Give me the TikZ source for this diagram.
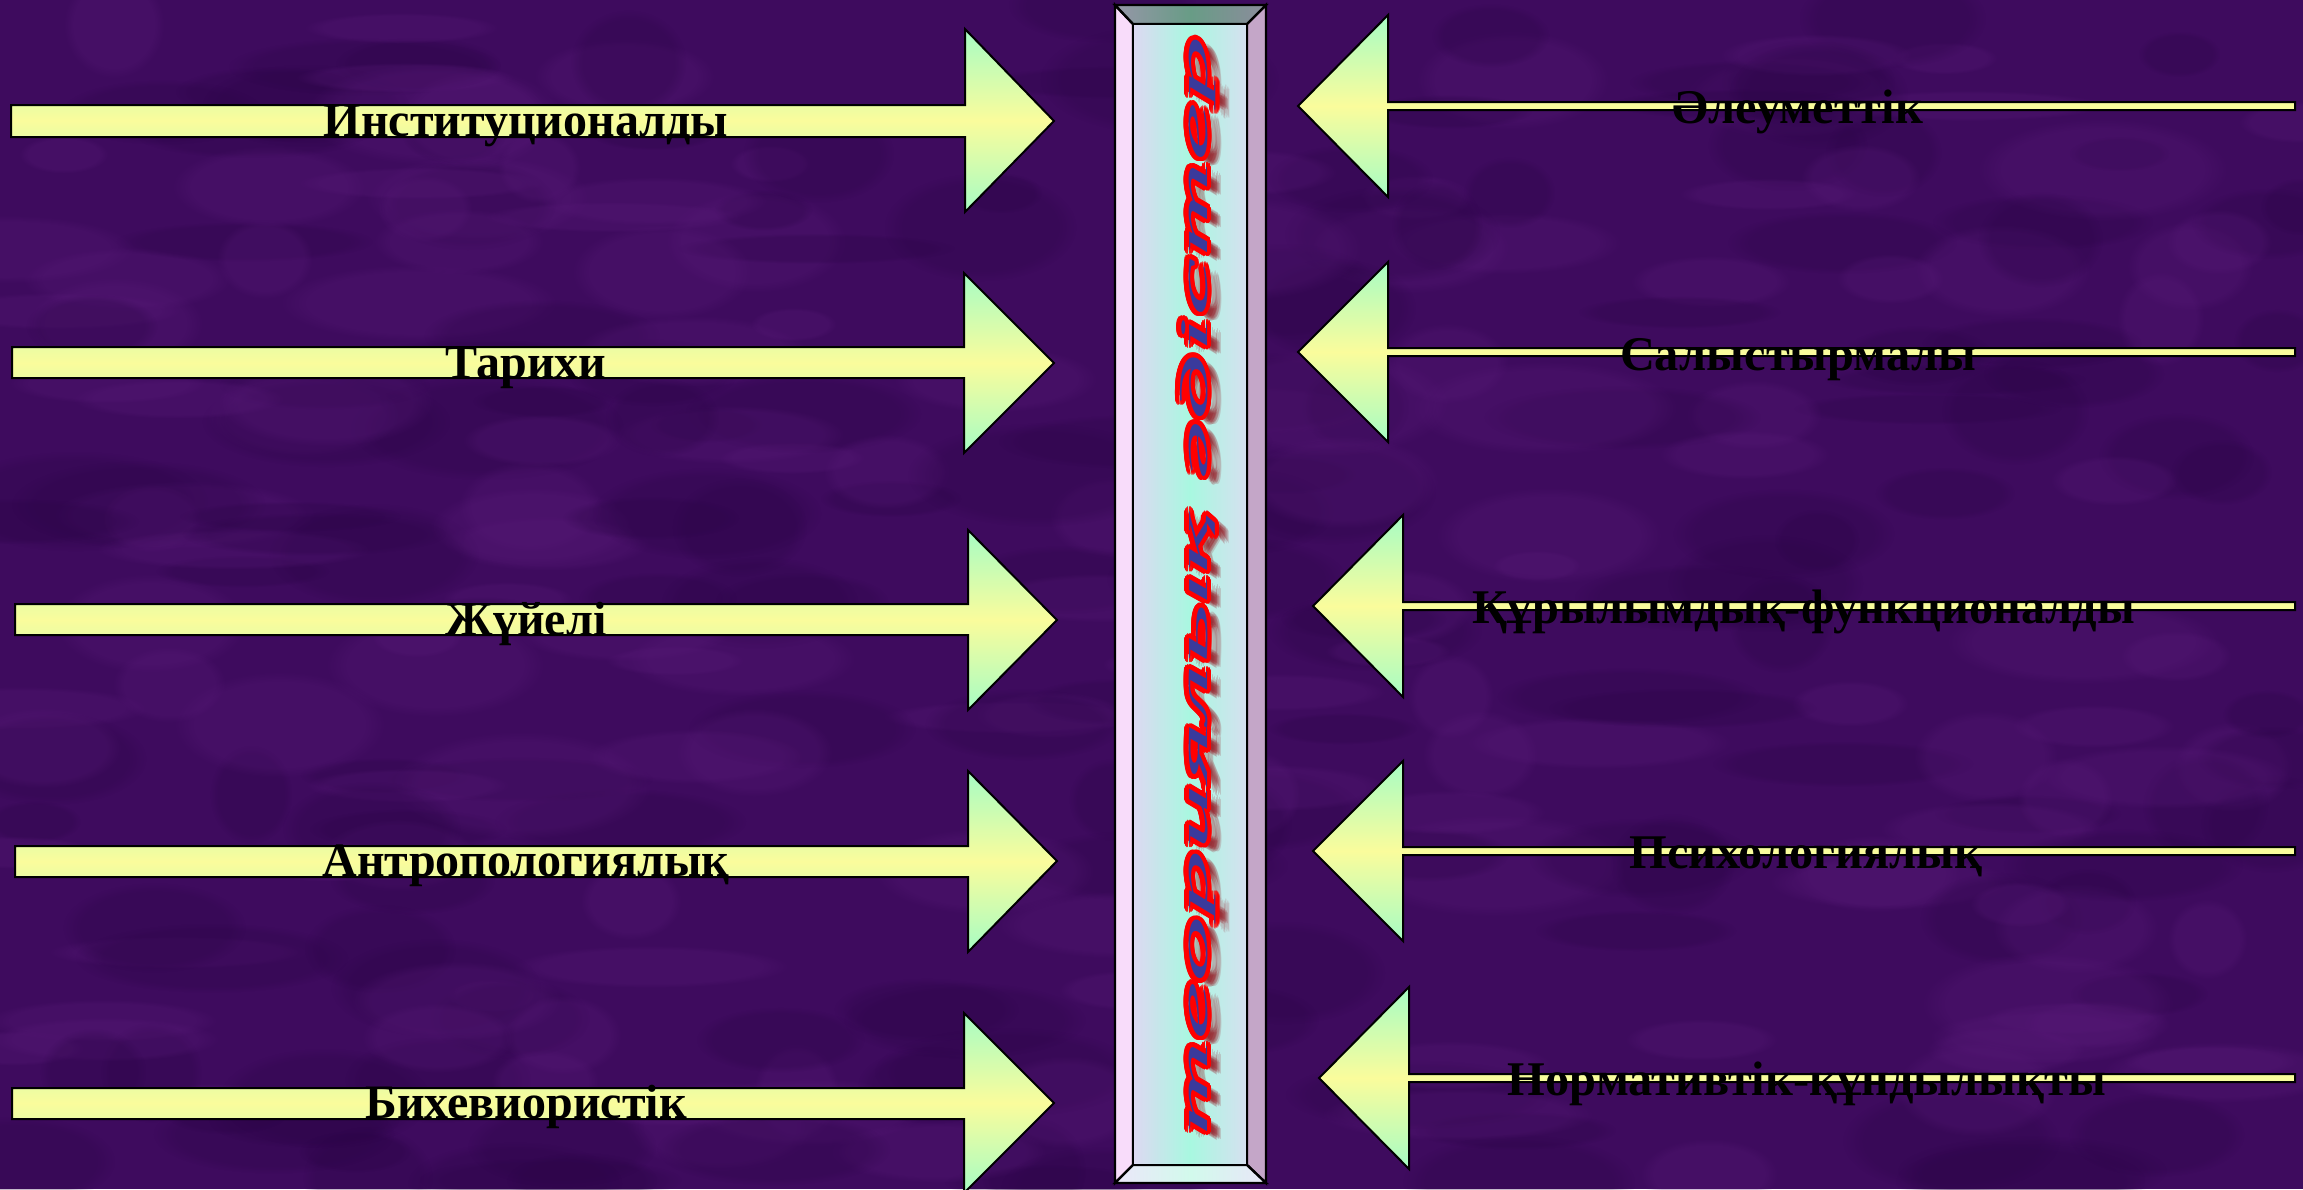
\documentclass[tikz,border=0pt]{standalone}
\usepackage{fontspec}
\setmainfont{Liberation Serif}
\newfontfamily\wordfont{Liberation Serif}
\usetikzlibrary{calc,fadings}
\definecolor{bgpurple}{RGB}{62,11,94}
\definecolor{bglight}{RGB}{88,26,120}
\definecolor{bgdark}{RGB}{42,4,70}
\definecolor{mint}{RGB}{166,252,196}
\definecolor{ayellow}{RGB}{250,252,156}
\definecolor{wablue}{RGB}{58,58,156}
\definecolor{shadowred}{RGB}{150,20,30}
\tikzset{
  arrowshade/.style={top color=mint, bottom color=mint, middle color=ayellow, draw=black, line width=1pt, line join=miter},
  barline/.style={draw=black, line width=1.2pt, line join=miter},
  ltext/.style={font=\fontsize{24}{28}\selectfont\bfseries, anchor=base, inner sep=0pt, text=black},
  rtext/.style={font=\fontsize{24.2}{28}\selectfont\bfseries, anchor=base, inner sep=0pt, text=black},
  vtxt/.style={rotate=90, anchor=base, inner sep=0pt, font=\fontsize{19.5}{24}\selectfont\wordfont\itshape},
}
\newcommand{\leftarr}[8]{%
  \shadedraw[arrowshade] (#1,#2) -- (#4,#2) -- (#4,#5) -- (#7,#8) -- (#4,#6) -- (#4,#3) -- (#1,#3) -- cycle;}
\newcommand{\rightarr}[8]{%
  \shadedraw[arrowshade] (#1,#2) -- (#3,#4) -- (#3,#6) -- (#8,#6) -- (#8,#7) -- (#3,#7) -- (#3,#5) -- cycle;}
\newcommand{\vword}{\resizebox{550pt}{\height}{теориялық әдістер}}
\begin{document}
\begin{tikzpicture}[x=0.5pt,y=-0.5pt]
\useasboundingbox (0,0) rectangle (2303,1189);
% background
\fill[bgpurple] (0,0) rectangle (2303,1189);
\pgfmathsetseed{4242}
\foreach \i in {1,...,320}{
  \pgfmathsetmacro{\px}{rnd*2303}
  \pgfmathsetmacro{\py}{rnd*1189}
  \pgfmathsetmacro{\rx}{40+rnd*100}
  \pgfmathsetmacro{\ry}{15+rnd*40}
  \pgfmathsetmacro{\k}{rnd}
  \ifdim\k pt<0.5pt
    \fill[bglight, opacity=0.28, path fading=circle with fuzzy edge 20 percent] (\px,\py) ellipse ({\rx} and {\ry});
  \else
    \fill[bgdark, opacity=0.28, path fading=circle with fuzzy edge 20 percent] (\px,\py) ellipse ({\rx} and {\ry});
  \fi
}
% left arrows
\leftarr{11}{105}{137}{965}{29}{212}{1054}{121}
\leftarr{12}{347}{378}{964}{273}{453}{1054}{363}
\leftarr{15}{604}{635}{968}{530}{710}{1057}{620}
\leftarr{15}{846}{877}{968}{771}{952}{1057}{861}
\leftarr{12}{1088}{1119}{964}{1013}{1193}{1054}{1103}
% right arrows: tip x, tip y, base x, head top, head bottom, shaft top, shaft bottom, right x
\rightarr{1298}{106}{1388}{15}{197}{102}{110}{2295}
\rightarr{1298}{352}{1388}{262}{442}{348}{356}{2295}
\rightarr{1313}{606}{1403}{515}{697}{602}{610}{2295}
\rightarr{1313}{851}{1403}{761}{941}{847}{855}{2295}
\rightarr{1319}{1078}{1409}{987}{1169}{1074}{1082}{2295}
% left texts
\node[ltext] (t1) at (526,136) {Институционалды};
\node[ltext] (t2) at (526,378) {Тарихи};
\node[ltext] (t3) at (526,635) {Жүйелі};
\node[ltext] (t4) at (526,876) {Антропологиялық};
\node[ltext] (t5) at (526,1118) {Бихевиористік};
% right texts
\node[rtext] (r1) at (1798,123) {Әлеуметтік};
\node[rtext] (r2) at (1798,370) {Салыстырмалы};
\node[rtext] (r3) at (1804,623) {Құрылымдық-функционалды};
\node[rtext] (r4) at (1806,868) {Психологиялық};
\node[rtext] (r5) at (1807,1095) {Нормативтік-құндылықты};
% central bevelled bar
\coordinate (o1) at (1115,5);
\coordinate (o2) at (1266,5);
\coordinate (o3) at (1266,1183);
\coordinate (o4) at (1115,1183);
\coordinate (i1) at (1133,24);
\coordinate (i2) at (1247,24);
\coordinate (i3) at (1247,1165);
\coordinate (i4) at (1133,1165);
\filldraw[barline, fill={rgb,255:red,248;green,220;blue,250}] (o1) -- (i1) -- (i4) -- (o4) -- cycle;
\filldraw[barline, fill={rgb,255:red,196;green,166;blue,200}] (o2) -- (i2) -- (i3) -- (o3) -- cycle;
\shadedraw[barline, left color={rgb,255:red,150;green,150;blue,168}, right color={rgb,255:red,140;green,140;blue,156}, middle color={rgb,255:red,104;green,156;blue,134}] (o1) -- (o2) -- (i2) -- (i1) -- cycle;
\shadedraw[barline, left color={rgb,255:red,236;green,230;blue,250}, right color={rgb,255:red,232;green,230;blue,248}, middle color={rgb,255:red,210;green,250;blue,236}] (o4) -- (o3) -- (i3) -- (i4) -- cycle;
\shadedraw[barline, left color={rgb,255:red,222;green,216;blue,242}, right color={rgb,255:red,214;green,224;blue,240}, middle color={rgb,255:red,168;green,248;blue,224}] (i1) -- (i2) -- (i3) -- (i4) -- cycle;
% vertical word art
\coordinate (vc) at (1207,586);
\foreach \dx/\dy [count=\n] in {6/3,8/5,10/6,12/8,9/8,7/6,11/4,13/6,14/8,10/9}{
  \node[vtxt, text=shadowred, opacity=0.18] (sh\n) at ($(vc)+(\dx,\dy)$) {\vword};
}
\foreach \a in {0,15,...,345}{
  \node[vtxt, text=red] (halo\a) at ($(vc)+(\a:4.5)$) {\vword};
}
\node[vtxt, text=wablue] (vtext) at (vc) {\vword};
\end{tikzpicture}
\end{document}
